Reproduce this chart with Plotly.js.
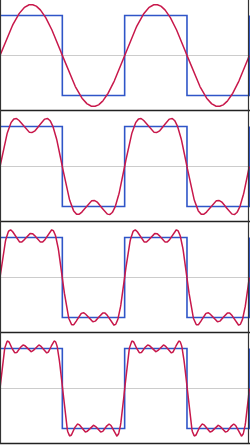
<!DOCTYPE html>
<html><head><meta charset="utf-8">
<script src="https://cdn.plot.ly/plotly-3.0.1.min.js"></script>
<style>html,body{margin:0;padding:0;background:#fff}#chart{width:250px;height:445px}</style>
</head><body><div id="chart"></div>
<script>
// Square wave corners (t in units of pi) and levels
const squareT = [0, 0, 1, 1, 2, 2, 3, 3, 4, 4];
const squareY = [-1, 1, 1, -1, -1, 1, 1, -1, -1, 1];
// Fourier harmonics and amplitudes (peak of 1st term ≈ 1.27)
const harmonics = [1, 3, 5, 7];
const amplitudes = [1.273, 0.424, 0.255, 0.182];
// number of terms used in each panel (top to bottom)
const termsPerPanel = [1, 2, 3, 4];

const N = 600;
const H = 445, P = 111;
const traces = [], layout = {
  width: 250, height: 445, margin: {l: 0, r: 0, t: 0, b: 0},
  paper_bgcolor: '#fff', plot_bgcolor: 'rgba(0,0,0,0)', showlegend: false, shapes: []
};
termsPerPanel.forEach((k, i) => {
  const xa = i === 0 ? 'x' : 'x' + (i + 1), ya = i === 0 ? 'y' : 'y' + (i + 1);
  const tx = [], ty = [];
  for (let j = 0; j <= N; j++) {
    const t = 4 * Math.PI * j / N;
    let s = 0;
    for (let h = 0; h < k; h++) s += amplitudes[h] * Math.sin(harmonics[h] * t);
    tx.push(t); ty.push(s);
  }
  traces.push({x: squareT.map(v => v * Math.PI), y: squareY, xaxis: xa, yaxis: ya, mode: 'lines',
    line: {color: '#2f55c8', width: 1.6}, hoverinfo: 'skip'});
  traces.push({x: tx, y: ty, xaxis: xa, yaxis: ya, mode: 'lines',
    line: {color: '#c8184b', width: 1.5}, hoverinfo: 'skip'});
  const top = i * P, bot = top + P;
  layout[(i === 0 ? 'xaxis' : 'xaxis' + (i + 1))] = {domain: [0, 1], range: [0, 4 * Math.PI * 250 / 249.3],
    showgrid: false, zeroline: false, showticklabels: false, ticks: '', anchor: ya, fixedrange: true};
  layout[(i === 0 ? 'yaxis' : 'yaxis' + (i + 1))] = {domain: [1 - bot / H, 1 - top / H], range: [-P / 80, P / 80],
    showgrid: false, zeroline: true, zerolinecolor: '#cccccc', zerolinewidth: 1.5,
    showticklabels: false, ticks: '', anchor: xa, fixedrange: true};
  layout.shapes.push({type: 'line', xref: 'paper', yref: 'paper', x0: 0, x1: 1,
    y0: 1 - (bot - 0.5) / H, y1: 1 - (bot - 0.5) / H, line: {color: '#222', width: 1.5}});
});
layout.shapes.push({type: 'line', xref: 'paper', yref: 'paper', x0: 0.5 / 250, x1: 0.5 / 250, y0: 1 - 443.5 / H, y1: 1,
  line: {color: '#333', width: 1.2}});
layout.shapes.push({type: 'line', xref: 'paper', yref: 'paper', x0: 248.5 / 250, x1: 248.5 / 250, y0: 1 - 443.5 / H, y1: 1,
  line: {color: '#333', width: 1.2}});
Plotly.newPlot('chart', traces, layout, {staticPlot: true, displayModeBar: false});
</script></body></html>
